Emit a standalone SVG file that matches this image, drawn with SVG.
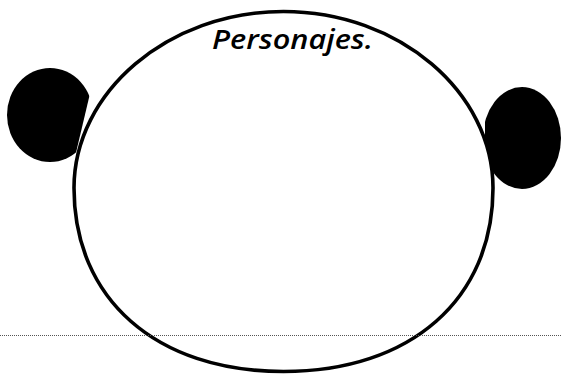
<svg xmlns="http://www.w3.org/2000/svg" width="561" height="374" viewBox="0 0 561 374">
<style>
.ear{fill:#000}
.face{fill:#fff;stroke:#000;stroke-width:3.6}
.guide{stroke:#555;stroke-width:1;stroke-dasharray:1 1;fill:none}
.title{font-family:"Open Sans","DejaVu Sans",sans-serif;font-style:italic;font-weight:600;font-size:27px;fill:#000}
</style>
<defs>
<clipPath id="clipL"><polygon points="0,50 100.3,50 71.9,170 0,170"/></clipPath>
<clipPath id="clipR"><rect x="485" y="80" width="80" height="120"/></clipPath>
</defs>
<g id="ear-left"><ellipse class="ear" cx="50" cy="115" rx="43" ry="47" clip-path="url(#clipL)"/></g>
<g id="ear-right"><ellipse class="ear" cx="522" cy="138" rx="39" ry="51" clip-path="url(#clipR)"/></g>
<g id="face"><path class="face" d="M283.5,11.5 C399.2,11.5 493,92.5 493,188 C493,298.7 411.3,371.5 283.5,371.5 C155.7,371.5 74,298.7 74,188 C74,92.5 167.8,11.5 283.5,11.5 Z"/></g>
<g id="connectors"><line class="guide" x1="0" y1="335.5" x2="561" y2="335.5"/></g>
<g id="label"><text class="title" x="212" y="49" textLength="161" lengthAdjust="spacingAndGlyphs">Personajes.</text></g>
</svg>
